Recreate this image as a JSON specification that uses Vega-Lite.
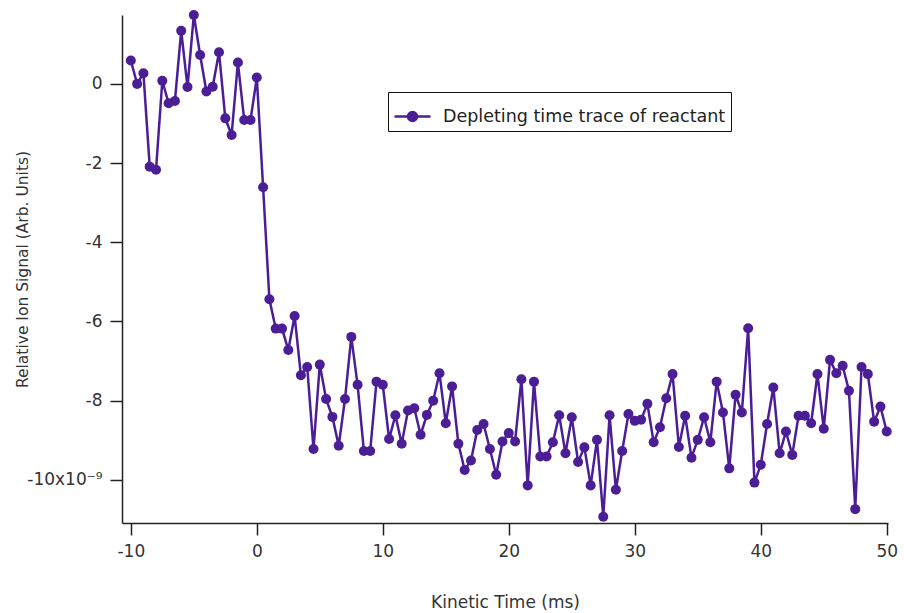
{
  "$schema": "https://vega.github.io/schema/vega-lite/v6.json",
  "autosize": "none",
  "width": 766,
  "height": 508,
  "padding": {"left": 122, "top": 15, "right": 16, "bottom": 90},
  "background": "white",
  "config": {
    "view": {"stroke": null},
    "font": "DejaVu Sans",
    "axis": {"grid": false, "domainColor": "#222", "tickColor": "#222", "domainWidth": 1.5, "tickWidth": 1.5, "labelColor": "#333", "titleColor": "#333", "labelFont": "DejaVu Sans", "titleFont": "DejaVu Sans", "titleFontWeight": "normal"}
  },
  "data": {
    "values": [
      {"t": -10, "v": 0.59}, {"t": -9.5, "v": 0.0}, {"t": -9, "v": 0.27}, {"t": -8.5, "v": -2.09}, {"t": -8, "v": -2.17},
      {"t": -7.5, "v": 0.08}, {"t": -7, "v": -0.49}, {"t": -6.5, "v": -0.43}, {"t": -6, "v": 1.34}, {"t": -5.5, "v": -0.08},
      {"t": -5, "v": 1.74}, {"t": -4.5, "v": 0.73}, {"t": -4, "v": -0.19}, {"t": -3.5, "v": -0.07}, {"t": -3, "v": 0.8},
      {"t": -2.5, "v": -0.87}, {"t": -2, "v": -1.29}, {"t": -1.5, "v": 0.54}, {"t": -1, "v": -0.91}, {"t": -0.5, "v": -0.91},
      {"t": 0, "v": 0.16}, {"t": 0.5, "v": -2.61}, {"t": 1, "v": -5.44}, {"t": 1.5, "v": -6.18}, {"t": 2, "v": -6.18},
      {"t": 2.5, "v": -6.72}, {"t": 3, "v": -5.86}, {"t": 3.5, "v": -7.36}, {"t": 4, "v": -7.15}, {"t": 4.5, "v": -9.22},
      {"t": 5, "v": -7.09}, {"t": 5.5, "v": -7.96}, {"t": 6, "v": -8.41}, {"t": 6.5, "v": -9.14}, {"t": 7, "v": -7.96},
      {"t": 7.5, "v": -6.39}, {"t": 8, "v": -7.6}, {"t": 8.5, "v": -9.27}, {"t": 9, "v": -9.27}, {"t": 9.5, "v": -7.52},
      {"t": 10, "v": -7.6}, {"t": 10.5, "v": -8.97}, {"t": 11, "v": -8.37}, {"t": 11.5, "v": -9.09}, {"t": 12, "v": -8.25},
      {"t": 12.5, "v": -8.19}, {"t": 13, "v": -8.86}, {"t": 13.5, "v": -8.36}, {"t": 14, "v": -8.0}, {"t": 14.5, "v": -7.31},
      {"t": 15, "v": -8.57}, {"t": 15.5, "v": -7.64}, {"t": 16, "v": -9.09}, {"t": 16.5, "v": -9.75}, {"t": 17, "v": -9.51},
      {"t": 17.5, "v": -8.74}, {"t": 18, "v": -8.59}, {"t": 18.5, "v": -9.22}, {"t": 19, "v": -9.87}, {"t": 19.5, "v": -9.03},
      {"t": 20, "v": -8.82}, {"t": 20.5, "v": -9.03}, {"t": 21, "v": -7.46}, {"t": 21.5, "v": -10.14}, {"t": 22, "v": -7.52},
      {"t": 22.5, "v": -9.41}, {"t": 23, "v": -9.41}, {"t": 23.5, "v": -9.05}, {"t": 24, "v": -8.37}, {"t": 24.5, "v": -9.33},
      {"t": 25, "v": -8.42}, {"t": 25.5, "v": -9.55}, {"t": 26, "v": -9.18}, {"t": 26.5, "v": -10.14}, {"t": 27, "v": -8.99},
      {"t": 27.5, "v": -10.93}, {"t": 28, "v": -8.37}, {"t": 28.5, "v": -10.25}, {"t": 29, "v": -9.27}, {"t": 29.5, "v": -8.34},
      {"t": 30, "v": -8.51}, {"t": 30.5, "v": -8.48}, {"t": 31, "v": -8.08}, {"t": 31.5, "v": -9.05}, {"t": 32, "v": -8.67},
      {"t": 32.5, "v": -7.94}, {"t": 33, "v": -7.33}, {"t": 33.5, "v": -9.17}, {"t": 34, "v": -8.38}, {"t": 34.5, "v": -9.44},
      {"t": 35, "v": -8.99}, {"t": 35.5, "v": -8.42}, {"t": 36, "v": -9.05}, {"t": 36.5, "v": -7.52}, {"t": 37, "v": -8.3},
      {"t": 37.5, "v": -9.71}, {"t": 38, "v": -7.85}, {"t": 38.5, "v": -8.3}, {"t": 39, "v": -6.17}, {"t": 39.5, "v": -10.07},
      {"t": 40, "v": -9.62}, {"t": 40.5, "v": -8.59}, {"t": 41, "v": -7.67}, {"t": 41.5, "v": -9.33}, {"t": 42, "v": -8.78},
      {"t": 42.5, "v": -9.37}, {"t": 43, "v": -8.38}, {"t": 43.5, "v": -8.38}, {"t": 44, "v": -8.57}, {"t": 44.5, "v": -7.33},
      {"t": 45, "v": -8.71}, {"t": 45.5, "v": -6.97}, {"t": 46, "v": -7.31}, {"t": 46.5, "v": -7.12}, {"t": 47, "v": -7.75},
      {"t": 47.5, "v": -10.74}, {"t": 48, "v": -7.15}, {"t": 48.5, "v": -7.33}, {"t": 49, "v": -8.53}, {"t": 49.5, "v": -8.15},
      {"t": 50, "v": -8.78}
    ]
  },
  "encoding": {
    "x": {
      "field": "t", "type": "quantitative",
      "scale": {"domain": [-10.7, 50.1], "nice": false, "zero": false},
      "axis": {"values": [-10, 0, 10, 20, 30, 40, 50], "tickSize": 12, "labelPadding": 8, "labelFontSize": 17, "labelExpr": "'' + datum.value", "title": "Kinetic Time (ms)", "titleFontSize": 17, "titleY": 84, "titleBaseline": "alphabetic"}
    },
    "y": {
      "field": "v", "type": "quantitative",
      "scale": {"domain": [-11.09, 1.74], "nice": false, "zero": false},
      "axis": {"values": [0, -2, -4, -6, -8, -10], "tickSize": 12, "labelPadding": 8, "labelFontSize": 17, "labelExpr": "datum.value == -10 ? '-10x10⁻⁹' : '' + datum.value", "title": "Relative Ion Signal (Arb. Units)", "titleFontSize": 15.5, "titleX": -95, "titleBaseline": "alphabetic"}
    },
    "color": {
      "datum": "Depleting time trace of reactant",
      "type": "nominal",
      "scale": {"range": ["#4b1e96"]},
      "legend": {
        "title": null,
        "orient": "none",
        "legendX": 266,
        "legendY": 77,
        "strokeColor": "#111",
        "fillColor": "white",
        "padding": 5,
        "cornerRadius": 0,
        "symbolType": "M-1,0L1,0M-0.25,0A0.25,0.25,0,1,1,0.25,0A0.25,0.25,0,1,1,-0.25,0Z",
        "symbolSize": 1296,
        "symbolStrokeWidth": 2.5,
        "symbolFillColor": "#4b1e96",
        "symbolStrokeColor": "#4b1e96",
        "labelFontSize": 17.5,
        "labelFont": "DejaVu Sans",
        "labelColor": "#222",
        "labelOffset": 11,
        "labelLimit": 0
      }
    }
  },
  "layer": [
    {"mark": {"type": "line", "strokeWidth": 2.5}},
    {"mark": {"type": "point", "filled": true, "size": 100, "opacity": 1}}
  ]
}
